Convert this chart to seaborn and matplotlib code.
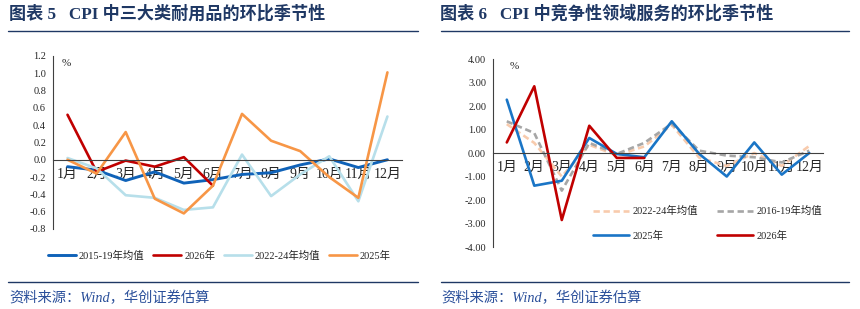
import numpy as np
import pandas as pd
import matplotlib
matplotlib.use("Agg")
import matplotlib.pyplot as plt
from matplotlib.lines import Line2D
import seaborn as sns

# x axis categories
months = ['1月', '2月', '3月', '4月', '5月', '6月', '7月', '8月', '9月', '10月', '11月', '12月']

# 图表5: CPI 中三大类耐用品的环比季节性 (%)
dur_1519 = [-0.08, -0.12, -0.24, -0.14, -0.27, -0.23, -0.17, -0.15, -0.06, 0.01, -0.09, 0.00]
dur_2026 = [0.52, -0.14, -0.01, -0.08, 0.03, -0.30]
dur_2224 = [0.02, -0.10, -0.41, -0.44, -0.58, -0.55, 0.06, -0.42, -0.17, 0.04, -0.48, 0.50]
dur_2025 = [0.00, -0.16, 0.32, -0.45, -0.62, -0.30, 0.53, 0.22, 0.10, -0.20, -0.44, 1.01]
dur_ticks = [-0.8, -0.6, -0.4, -0.2, 0.0, 0.2, 0.4, 0.6, 0.8, 1.0, 1.2]

# 图表6: CPI 中竞争性领域服务的环比季节性 (%)
svc_2224 = [1.23, 0.43, -1.00, 0.35, -0.10, 0.28, 1.20, -0.20, -0.55, 0.00, -0.55, 0.30]
svc_1619 = [1.35, 0.85, -1.60, 0.43, -0.04, 0.43, 1.25, 0.10, -0.11, -0.18, -0.40, 0.10]
svc_2025 = [2.27, -1.39, -1.18, 0.64, -0.04, -0.18, 1.35, -0.04, -1.00, 0.45, -0.92, 0.00]
svc_2026 = [0.45, 2.84, -2.85, 1.16, -0.21, -0.21]
svc_ticks = [-4.0, -3.0, -2.0, -1.0, 0.0, 1.0, 2.0, 3.0, 4.0]

sns.set_style("white")
plt.rcParams['font.family'] = ['Liberation Serif', 'Noto Sans CJK SC', 'DejaVu Sans']
plt.rcParams['axes.unicode_minus'] = False

NAVY = '#1f3864'
TICK_FONT = 7.5

fig = plt.figure(figsize=(8.6, 3.09), dpi=100)
ax1 = fig.add_axes([0.0616, 0.259, 0.4058, 0.560])
ax2 = fig.add_axes([0.5733, 0.2006, 0.3837, 0.6084])

x = np.arange(len(months))


def draw(ax, vals, color, label, dashed=False, lw=1.9):
    xs = x[:len(vals)]
    kw = dict(linestyle=(0, (2.4, 1.4))) if dashed else {}
    sns.lineplot(x=xs, y=vals, ax=ax, color=color, linewidth=lw, label=label,
                 legend=False, **kw)


def style_axis(ax, yticks, fmt):
    ax.set_xlim(-0.5, 11.5)
    ax.set_ylim(yticks[0], yticks[-1])
    ax.set_yticks(yticks)
    ax.set_yticklabels([fmt.format(v) for v in yticks], fontsize=TICK_FONT)
    ax.set_xticks(x)
    ax.set_xticklabels(months, fontsize=TICK_FONT)
    ax.set_xticks(np.arange(-0.5, 12, 1), minor=True)
    ax.tick_params(axis='x', which='major', length=0, pad=6)
    ax.tick_params(axis='x', which='minor', length=3, direction='out', width=0.7, color='#404040')
    ax.tick_params(axis='y', length=3, direction='out', width=0.7, color='#404040', pad=2)
    for s in ['top', 'right']:
        ax.spines[s].set_visible(False)
    ax.spines['bottom'].set_position(('data', 0))
    ax.spines['bottom'].set_color('#404040')
    ax.spines['bottom'].set_linewidth(0.8)
    ax.spines['left'].set_color('#404040')
    ax.spines['left'].set_linewidth(0.8)
    ax.set_xlabel('')
    ax.set_ylabel('')
    ax.patch.set_alpha(0)


# 左图
draw(ax1, dur_1519, '#0f62b8', '2015-19年均值', lw=2.1)
draw(ax1, dur_2026, '#c00000', '2026年')
draw(ax1, dur_2224, '#b7dfea', '2022-24年均值')
draw(ax1, dur_2025, '#f79646', '2025年')
style_axis(ax1, dur_ticks, '{:.1f}')
ax1.text(0.025, 0.985, '%', transform=ax1.transAxes, fontsize=8, va='top', ha='left')
h, l = ax1.get_legend_handles_labels()
ax1.legend(h, l, loc='center', bbox_to_anchor=(0.255, 0.172), bbox_transform=fig.transFigure,
           ncol=4, frameon=False, fontsize=7.5, handlelength=2.7, handletextpad=0.3,
           columnspacing=0.8)

# 右图
draw(ax2, svc_2224, '#f8cbad', '2022-24年均值', dashed=True)
draw(ax2, svc_1619, '#a6a6a6', '2016-19年均值', dashed=True)
draw(ax2, svc_2025, '#1a75c6', '2025年')
draw(ax2, svc_2026, '#c00000', '2026年')
style_axis(ax2, svc_ticks, '{:.2f}')
ax2.text(0.05, 0.985, '%', transform=ax2.transAxes, fontsize=8, va='top', ha='left')
h, l = ax2.get_legend_handles_labels()
order = [0, 2, 1, 3]
ax2.legend([h[i] for i in order], [l[i] for i in order], loc='upper left',
           bbox_to_anchor=(0.684, 0.35), bbox_transform=fig.transFigure,
           ncol=2, frameon=False, fontsize=7.5, handlelength=3.4, handletextpad=0.4,
           columnspacing=1.8, labelspacing=1.4, borderpad=0)

# 标题、分隔线、资料来源
title_font = ['Liberation Serif', 'Noto Sans CJK SC']
fig.text(0.010, 0.955, '图表 5   CPI 中三大类耐用品的环比季节性', fontsize=12.3, fontweight='bold',
         color=NAVY, family=title_font, va='center')
fig.text(0.512, 0.955, '图表 6   CPI 中竞争性领域服务的环比季节性', fontsize=12.3, fontweight='bold',
         color=NAVY, family=title_font, va='center')
for x0, x1 in [(8, 418), (441, 849)]:
    for yy in [31, 282]:
        fig.add_artist(Line2D([x0 / 860, x1 / 860], [1 - yy / 309, 1 - yy / 309],
                              transform=fig.transFigure, color=NAVY, linewidth=1.0))
src = '资料来源：Wind，华创证券估算'
fig.text(0.011, 0.036, src, fontsize=10.3, style='italic', color='#2a4f9a', va='center',
         family=['Liberation Serif', 'Noto Sans CJK SC'])
fig.text(0.513, 0.036, src, fontsize=10.3, style='italic', color='#2a4f9a', va='center',
         family=['Liberation Serif', 'Noto Sans CJK SC'])

fig.savefig('out.png', dpi=100)
